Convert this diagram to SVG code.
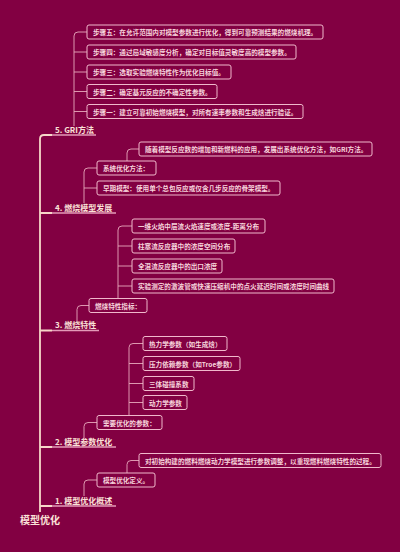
<svg xmlns="http://www.w3.org/2000/svg" width="400" height="552" viewBox="0 0 400 552">
<style>
.bg{fill:#820042}
.trunk{fill:none;stroke:#f6d7c8;stroke-width:1.8}
.ul{fill:none;stroke:#e39ab8;stroke-width:1.5}
.ulc{fill:none;stroke:#f6d7c8;stroke-width:1.8}
.ln{fill:none;stroke:#e8a8bc;stroke-width:0.9}
.box{fill:#820042;stroke:#f0b8cb;stroke-width:1}
.bt{font-family:"Noto Sans CJK SC","Noto Sans",sans-serif;font-size:6.6px;font-weight:700;fill:#f7d4dc;dominant-baseline:central}
.st{font-family:"Noto Sans CJK SC","Noto Sans",sans-serif;font-size:8px;font-weight:700;fill:#fbe2d8}
.rt{font-family:"Noto Sans CJK SC","Noto Sans",sans-serif;font-size:10px;font-weight:700;fill:#fbe2d8}
</style>
<rect class="bg" x="0" y="0" width="400" height="552"/>

<g id="connectors">
  <path class="trunk" d="M40,512 V139 Q40,135 44,135 H52"/>
  <path class="ulc" d="M40,213 H52 M40,330.5 H52 M40,447 H52 M40,506 H52"/>
  <path class="ul" d="M52,135 H96 M52,213 H116 M52,330.5 H99 M52,447 H116 M52,506 H116"/>
  <path class="ln" d="M74,126 V36 Q74,32 78,32 H87 M74,52 H87 M74,72 H87 M74,91.5 H87 M74,111.5 H87"/>
  <path class="ln" d="M84,203 V172 Q84,168 88,168 H97 M84,188 H97"/>
  <path class="ln" d="M127,161 V153 Q127,149 131,149 H139"/>
  <path class="ln" d="M77,321 V309.5 Q77,305.5 81,305.5 H89"/>
  <path class="ln" d="M118,299 V230 Q118,226 122,226 H132 M118,246 H132 M118,266 H132 M118,286 H132"/>
  <path class="ln" d="M84,438 V426.5 Q84,422.5 88,422.5 H97"/>
  <path class="ln" d="M129,416 V347.5 Q129,343.5 133,343.5 H143 M129,363.5 H143 M129,383.5 H143 M129,402.5 H143"/>
  <path class="ln" d="M84,496 V484 Q84,480 88,480 H97"/>
  <path class="ln" d="M127,473 V464.5 Q127,460.5 131,460.5 H139"/>
</g>

<g id="root"><text class="rt" x="20" y="524">模型优化</text></g>

<g id="s5"><text class="st" x="55" y="133">5.  GRI方法</text></g>
<g id="s5c5"><rect class="box" x="87" y="25" width="236" height="14" rx="2"/><text class="bt" x="93" y="32">步骤五：在允许范围内对模型参数进行优化，得到可靠预测结果的燃烧机理。</text></g>
<g id="s5c4"><rect class="box" x="87" y="45" width="209" height="14" rx="2"/><text class="bt" x="93" y="52">步骤四：通过局域敏感度分析，确定对目标值灵敏度高的模型参数。</text></g>
<g id="s5c3"><rect class="box" x="87" y="65" width="144" height="14" rx="2"/><text class="bt" x="93" y="72">步骤三：选取实验燃烧特性作为优化目标值。</text></g>
<g id="s5c2"><rect class="box" x="87" y="84.5" width="130" height="14" rx="2"/><text class="bt" x="93" y="91.5">步骤二：确定基元反应的不确定性参数。</text></g>
<g id="s5c1"><rect class="box" x="87" y="104.5" width="216" height="14" rx="2"/><text class="bt" x="93" y="111.5">步骤一：建立可靠初始燃烧模型，对所有速率参数和生成焓进行验证。</text></g>

<g id="s4"><text class="st" x="55" y="211">4.  燃烧模型发展</text></g>
<g id="s4c2"><rect class="box" x="97" y="161" width="59" height="14" rx="2"/><text class="bt" x="103" y="168">系统优化方法：</text></g>
<g id="s4c2a"><rect class="box" x="139" y="142" width="233" height="14" rx="2"/><text class="bt" x="145" y="149">随着模型反应数的增加和新燃料的应用，发展出系统优化方法，如GRI方法。</text></g>
<g id="s4c1"><rect class="box" x="97" y="181" width="183" height="14" rx="2"/><text class="bt" x="103" y="188">早期模型：使用单个总包反应或仅含几步反应的骨架模型。</text></g>

<g id="s3"><text class="st" x="55" y="328">3.  燃烧特性</text></g>
<g id="s3c"><rect class="box" x="89" y="298.5" width="58" height="14" rx="2"/><text class="bt" x="95" y="305.5">燃烧特性指标：</text></g>
<g id="s3c1"><rect class="box" x="132" y="219" width="133" height="14" rx="2"/><text class="bt" x="138" y="226">一维火焰中层流火焰速度或浓度-距离分布</text></g>
<g id="s3c2"><rect class="box" x="132" y="239" width="103" height="14" rx="2"/><text class="bt" x="138" y="246">柱塞流反应器中的浓度空间分布</text></g>
<g id="s3c3"><rect class="box" x="132" y="259" width="90" height="14" rx="2"/><text class="bt" x="138" y="266">全混流反应器中的出口浓度</text></g>
<g id="s3c4"><rect class="box" x="132" y="279" width="202" height="14" rx="2"/><text class="bt" x="138" y="286">实验测定的激波管或快速压缩机中的点火延迟时间或浓度时间曲线</text></g>

<g id="s2"><text class="st" x="55" y="445">2.  模型参数优化</text></g>
<g id="s2c"><rect class="box" x="97" y="415.5" width="65" height="14" rx="2"/><text class="bt" x="103" y="422.5">需要优化的参数：</text></g>
<g id="s2c1"><rect class="box" x="143" y="336.5" width="84" height="14" rx="2"/><text class="bt" x="149" y="343.5">热力学参数（如生成焓）</text></g>
<g id="s2c2"><rect class="box" x="143" y="356.5" width="97" height="14" rx="2"/><text class="bt" x="149" y="363.5">压力依赖参数（如Troe参数）</text></g>
<g id="s2c3"><rect class="box" x="143" y="376.5" width="51" height="14" rx="2"/><text class="bt" x="149" y="383.5">三体碰撞系数</text></g>
<g id="s2c4"><rect class="box" x="143" y="395.5" width="44" height="14" rx="2"/><text class="bt" x="149" y="402.5">动力学参数</text></g>

<g id="s1"><text class="st" x="55" y="504">1.  模型优化概述</text></g>
<g id="s1c"><rect class="box" x="97" y="473" width="58" height="14" rx="2"/><text class="bt" x="103" y="480">模型优化定义。</text></g>
<g id="s1c1"><rect class="box" x="139" y="453.5" width="242" height="14" rx="2"/><text class="bt" x="145" y="460.5">对初始构建的燃料燃烧动力学模型进行参数调整，以重现燃料燃烧特性的过程。</text></g>
</svg>
